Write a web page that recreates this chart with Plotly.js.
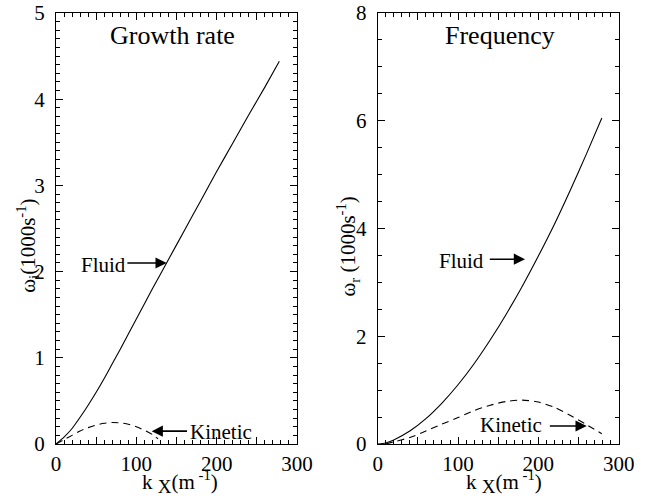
<!DOCTYPE html>
<html><head><meta charset="utf-8">
<script src="https://cdn.plot.ly/plotly-3.0.1.min.js"></script>
<style>html,body{margin:0;padding:0;background:#fff}</style>
</head><body>
<div id="chart" style="width:657px;height:496px"></div>
<script>
// Growth rate panel (omega_i, 1000 s^-1) vs k_x (m^-1)
const kxGrowthFluid = [0, 10, 20, 30, 40, 50, 60, 70, 80, 100, 120, 140, 160, 180, 200, 220, 240, 260, 278];
const growthFluid   = [0, 0.08, 0.18, 0.31, 0.45, 0.60, 0.76, 0.93, 1.10, 1.45, 1.80, 2.14, 2.48, 2.82, 3.16, 3.49, 3.82, 4.14, 4.44];
const kxGrowthKinetic = [0, 10, 20, 30, 40, 50, 60, 70, 80, 90, 100, 110, 120, 127];
const growthKinetic   = [0, 0.05, 0.10, 0.15, 0.19, 0.22, 0.24, 0.25, 0.245, 0.23, 0.20, 0.16, 0.11, 0.06];

// Frequency panel (omega_r, 1000 s^-1) vs k_x (m^-1)
const kxFreqFluid = [0, 10, 20, 40, 60, 80, 100, 120, 140, 160, 180, 200, 220, 240, 260, 279];
const freqFluid   = [0, 0.02, 0.076, 0.24, 0.47, 0.76, 1.10, 1.49, 1.93, 2.41, 2.93, 3.49, 4.08, 4.72, 5.39, 6.05];
const kxFreqKinetic = [10, 20, 40, 60, 80, 100, 120, 140, 160, 180, 200, 220, 240, 260, 279];
const freqKinetic   = [0.0, 0.04, 0.12, 0.24, 0.37, 0.49, 0.62, 0.72, 0.79, 0.815, 0.78, 0.68, 0.53, 0.36, 0.19];

// Tick labels
const xTickVals = [0, 50, 100, 150, 200, 250, 300];
const xTickText = ['0', '', '100', '', '200', '', '300'];
const yGrowthTicks = [0, 1, 2, 3, 4, 5];
const yFreqTicks = [0, 2, 4, 6, 8];

const serif = 'Liberation Serif';
const black = '#000';

const traces = [
  {x: kxGrowthFluid, y: growthFluid, type: 'scatter', mode: 'lines', xaxis: 'x', yaxis: 'y',
   line: {color: black, width: 1.1, shape: 'spline', smoothing: 0.6}},
  {x: kxGrowthKinetic, y: growthKinetic, type: 'scatter', mode: 'lines', xaxis: 'x', yaxis: 'y',
   line: {color: black, width: 1.1, dash: '7px,5px', shape: 'spline', smoothing: 0.6}},
  {x: kxFreqFluid, y: freqFluid, type: 'scatter', mode: 'lines', xaxis: 'x2', yaxis: 'y2',
   line: {color: black, width: 1.1, shape: 'spline', smoothing: 0.6}},
  {x: kxFreqKinetic, y: freqKinetic, type: 'scatter', mode: 'lines', xaxis: 'x2', yaxis: 'y2',
   line: {color: black, width: 1.1, dash: '7px,5px', shape: 'spline', smoothing: 0.6}}
];

function xAxis(domain, anchor) {
  return {
    domain: domain, anchor: anchor, range: [0, 300],
    tickmode: 'array', tickvals: xTickVals, ticktext: xTickText,
    ticks: 'inside', ticklen: 7, tickwidth: 1, tickcolor: black,
    minor: {dtick: 10, tick0: 0, ticks: 'inside', ticklen: 4, tickwidth: 1, tickcolor: black, showgrid: false},
    showline: true, linecolor: black, linewidth: 1, mirror: 'ticks',
    showgrid: false, zeroline: false,
    tickfont: {family: serif, size: 21, color: black},
    ticklabelstandoff: 1
  };
}
function yAxis(domain, anchor, range, ticks, minor) {
  return {
    domain: domain, anchor: anchor, range: range,
    tickmode: 'array', tickvals: ticks, ticktext: ticks.map(String),
    ticks: 'inside', ticklen: 7, tickwidth: 1, tickcolor: black,
    minor: {dtick: minor, tick0: 0, ticks: 'inside', ticklen: 4, tickwidth: 1, tickcolor: black, showgrid: false},
    showline: true, linecolor: black, linewidth: 1, mirror: 'ticks',
    showgrid: false, zeroline: false,
    tickfont: {family: serif, size: 21, color: black},
    ticklabelstandoff: 6
  };
}

function label(text, xref, yref, x, y, size, extra) {
  return Object.assign({text: text, xref: xref, yref: yref, x: x, y: y, showarrow: false,
    xanchor: 'center', yanchor: 'middle', font: {family: serif, size: size, color: black}}, extra || {});
}
function arrow(xref, yref, x, y, ax, ay) {
  return {text: '', xref: xref, yref: yref, axref: xref, ayref: yref, x: x, y: y, ax: ax, ay: ay,
    showarrow: true, arrowhead: 2, arrowsize: 1.4, arrowwidth: 1.6, arrowcolor: black, standoff: 0};
}

const W = 657;
const kTitle = 'k <sub><span style="font-size:19px">X</span></sub>(m<sup> -1</sup>)';
const layout = {
  width: 657, height: 496,
  margin: {l: 0, r: 0, t: 13, b: 52, pad: 0},
  paper_bgcolor: '#fff', plot_bgcolor: '#fff',
  showlegend: false,
  font: {family: serif, color: black},
  xaxis: xAxis([56 / W, 297 / W], 'y'),
  yaxis: yAxis([0, 1], 'x', [0, 5], yGrowthTicks, 0.1),
  xaxis2: xAxis([377.7 / W, 618.7 / W], 'y2'),
  yaxis2: yAxis([0, 1], 'x2', [0, 8], yFreqTicks, 0.5),
  annotations: [
    label('Growth rate', 'x', 'y', 144.4, 4.74, 26),
    label('Frequency', 'x2', 'y2', 152.2, 7.58, 26),
    label('ω<sub>i</sub>(1000s<sup>-1</sup>)', 'paper', 'paper', 28 / W, 0.46, 21, {textangle: -90}),
    label('ω<sub>r</sub> (1000s<sup>-1</sup>)', 'paper', 'paper', 348 / W, 0.458, 21, {textangle: -90}),
    label(kTitle, 'paper', 'paper', 180 / W, -0.088, 21),
    label(kTitle, 'paper', 'paper', 504 / W, -0.088, 21),
    label('Fluid', 'x', 'y', 59.0, 2.08, 21),
    arrow('x', 'y', 137.8, 2.10, 87, 2.10),
    label('Kinetic', 'x', 'y', 204.8, 0.135, 21),
    arrow('x', 'y', 119.1, 0.149, 165, 0.149),
    label('Fluid', 'x2', 'y2', 104.9, 3.39, 21),
    arrow('x2', 'y2', 183.4, 3.43, 137.7, 3.43),
    label('Kinetic', 'x2', 'y2', 166.3, 0.353, 21),
    arrow('x2', 'y2', 260.2, 0.334, 212.4, 0.334)
  ]
};

Plotly.newPlot('chart', traces, layout, {displayModeBar: false, staticPlot: true});
</script>
</body></html>
